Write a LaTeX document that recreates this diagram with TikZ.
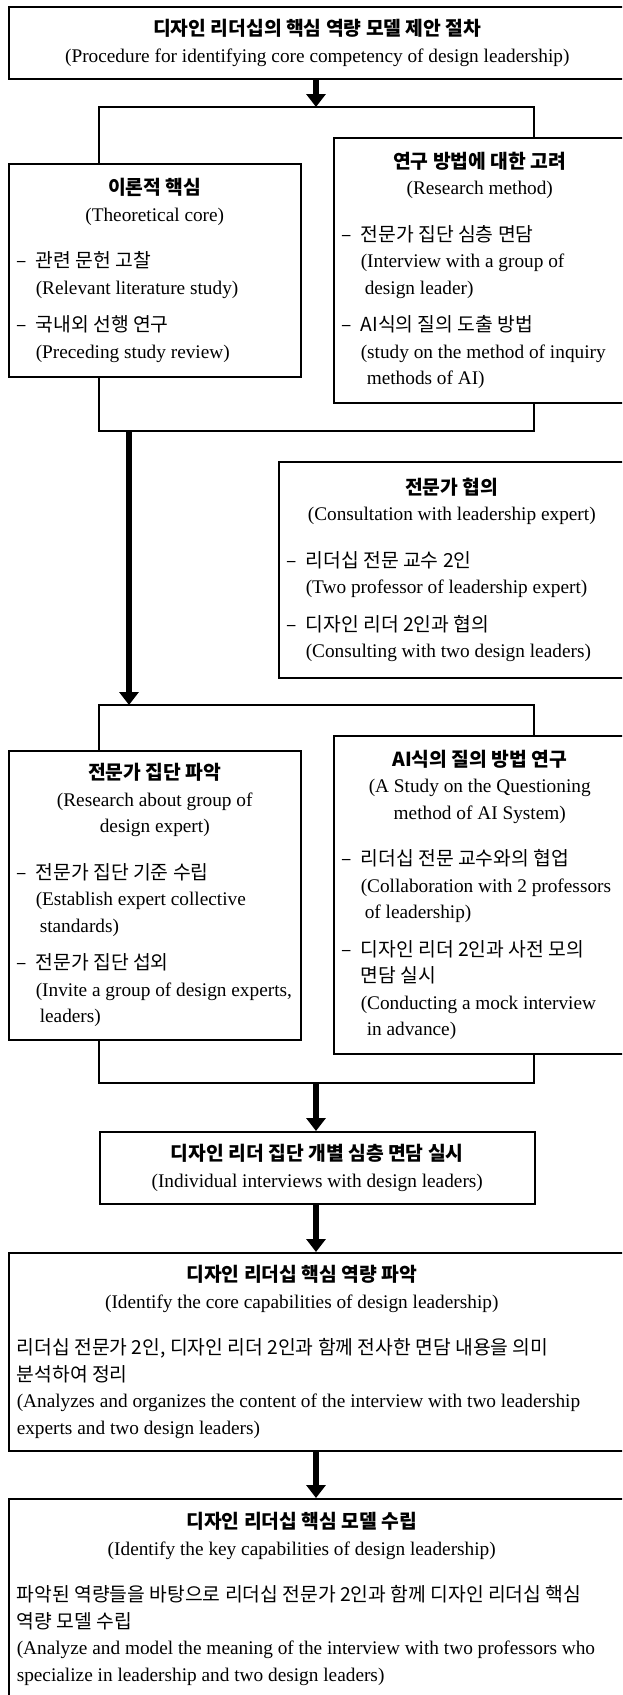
\documentclass[tikz,border=0pt]{standalone}
\usepackage{fontspec}
\setmainfont{Liberation Serif}
\newfontfamily\kr{Noto Sans CJK KR}
\usepackage{xcolor}
\definecolor{lineBlack}{HTML}{000000}
\usepackage{tikz}
\usetikzlibrary{positioning,calc,arrows.meta}
\tikzset{
  stepBox/.style={
    rectangle,
    draw=lineBlack,
    line width=1.5pt,
    inner xsep=8pt,
    inner ysep=0pt,
    anchor=north west,
    font=\fontsize{19.3}{26.5}\selectfont
 },
  joinLine/.style={
    line width=1.3pt,
    color=lineBlack
 },
  arrowLine/.style={
    -{Triangle[length=13pt,width=19pt]},
    line width=5.5pt,
    color=lineBlack
 }
}
\newcommand{\boxTitle}[2]{{\centering{\kr\bfseries #1}\\#2\par}}
\newcommand{\boxItem}[3][11pt]{\par\vspace{#1}{\leftskip=19pt\noindent\hspace*{-19pt}\makebox[19pt][l]{\kr –}{\kr #2}\\#3\par}}
\newcommand{\boxBody}[2]{\par\vspace{20pt}\noindent{\kr #1}\\#2\par}

\begin{document}
\begin{tikzpicture}[x=1pt,y=-1pt]
\useasboundingbox (0,0) rectangle (622,1695);
\clip (0,0) rectangle (622,1695);

% Title box
\node[stepBox, minimum height=72pt] (title) at (8,6) {\begin{minipage}{601pt}\raggedright
  \boxTitle{디자인 리더십의 핵심 역량 모델 제안 절차}{(Procedure for identifying core competency of design leadership)}
\end{minipage}};

% First pair: theory and method
\node[stepBox, minimum height=213pt] (theory) at (8,163) {\begin{minipage}{276pt}\raggedright
  \boxTitle{이론적 핵심}{(Theoretical core)}
  \boxItem[20pt]{관련 문헌 고찰}{(Relevant literature study)}
  \boxItem{국내외 선행 연구}{(Preceding study review)}
\end{minipage}};
\node[stepBox, minimum height=265pt] (method) at (333,137) {\begin{minipage}{276pt}\raggedright
  \boxTitle{연구 방법에 대한 고려}{(Research method)}
  \boxItem[20pt]{전문가 집단 심층 면담}{(Interview with a group of\\\hspace*{4pt}design leader)}
  \boxItem{AI식의 질의 도출 방법}{(study on the method of inquiry\\\hspace*{6pt}methods of AI)}
\end{minipage}};

% Side box: expert consultation
\node[stepBox, minimum height=216pt] (consult) at (278,461) {\begin{minipage}{330pt}\raggedright
  \boxTitle{전문가 협의}{(Consultation with leadership expert)}
  \boxItem[20pt]{리더십 전문 교수 2인}{(Two professor of leadership expert)}
  \boxItem{디자인 리더 2인과 협의}{(Consulting with two design leaders)}
\end{minipage}};

% Second pair: expert group and AI method
\node[stepBox, minimum height=289pt] (expert) at (8,750) {\begin{minipage}{276pt}\raggedright
  \boxTitle{전문가 집단 파악}{(Research about group of\\design expert)}
  \boxItem[20pt]{전문가 집단 기준 수립}{(Establish expert collective\\\hspace*{4pt}standards)}
  \boxItem{전문가 집단 섭외}{(Invite a group of design experts,\\\hspace*{4pt}leaders)}
\end{minipage}};
\node[stepBox, minimum height=318pt] (aimethod) at (333,735) {\begin{minipage}{276pt}\raggedright
  \boxTitle{AI식의 질의 방법 연구}{(A Study on the Questioning\\method of AI System)}
  \boxItem[20pt]{리더십 전문 교수와의 협업}{(Collaboration with 2 professors\\\hspace*{4pt}of leadership)}
  \boxItem{디자인 리더 2인과 사전 모의\\면담 실시}{(Conducting a mock interview\\\hspace*{6pt}in advance)}
\end{minipage}};

% Lower steps
\node[stepBox, minimum height=72pt] (interview) at (99,1131) {\begin{minipage}{419pt}\raggedright
  \boxTitle{디자인 리더 집단 개별 심층 면담 실시}{(Individual interviews with design leaders)}
\end{minipage}};
\node[stepBox, minimum height=198pt] (capability) at (8,1252) {\begin{minipage}{570pt}\raggedright
  \boxTitle{디자인 리더십 핵심 역량 파악}{(Identify the core capabilities of design leadership)}
  \boxBody{\mbox{리더십 전문가 2인, 디자인 리더 2인과 함께 전사한 면담 내용을 의미}\\분석하여 정리}{\mbox{(Analyzes and organizes the content of the interview with two leadership}\\experts and two design leaders)}
\end{minipage}\hspace*{31pt}};
\node[stepBox, minimum height=200pt] (model) at (8,1498) {\begin{minipage}{570pt}\raggedright
  \boxTitle{디자인 리더십 핵심 모델 수립}{(Identify the key capabilities of design leadership)}
  \boxBody{\mbox{파악된 역량들을 바탕으로 리더십 전문가 2인과 함께 디자인 리더십 핵심}\\역량 모델 수립}{\mbox{(Analyze and model the meaning of the interview with two professors who}\\specialize in leadership and two design leaders)}
\end{minipage}\hspace*{31pt}};

% Join points
\coordinate (brL) at (99,0);
\coordinate (brR) at (534,0);
\coordinate (splitA) at (316,107);
\coordinate (mergeA) at (129,431);
\coordinate (splitB) at (129,705);
\coordinate (mergeB) at (316,1083);

% Connectors
\draw[arrowLine] (title.south -| splitA) -- (splitA);
\draw[joinLine] (theory.north -| brL) |- (splitA) -| (method.north -| brR);
\draw[joinLine] (theory.south -| brL) |- (mergeA) -| (method.south -| brR);
\draw[arrowLine] (mergeA) -- (splitB);
\draw[joinLine] (expert.north -| brL) |- (splitB) -| (aimethod.north -| brR);
\draw[joinLine] (expert.south -| brL) |- (mergeB) -| (aimethod.south -| brR);
\draw[arrowLine] (mergeB) -- (interview.north -| mergeB);
\draw[arrowLine] (interview.south -| mergeB) -- (capability.north -| mergeB);
\draw[arrowLine] (capability.south -| mergeB) -- (model.north -| mergeB);

\end{tikzpicture}
\end{document}
